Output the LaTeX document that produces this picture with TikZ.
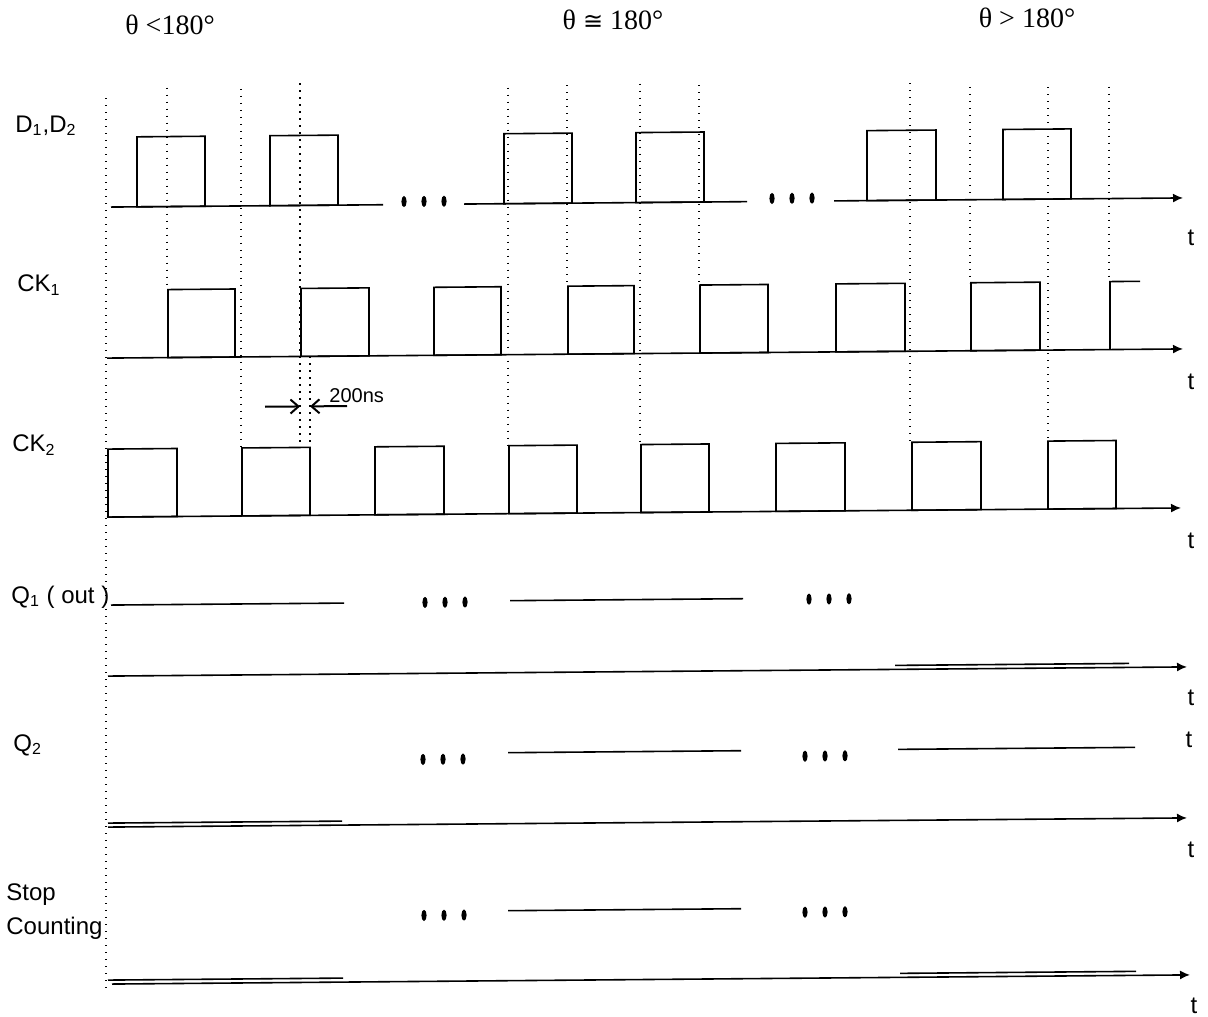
\documentclass[tikz,border=0pt]{standalone}
\usepackage{fontspec}
\setmainfont{Liberation Sans}
\newfontfamily\thetafont{Liberation Serif}
\newfontfamily\symbfont{DejaVu Sans}
\usetikzlibrary{arrows.meta}

\tikzset{
  sig/.style={line width=0.8pt},
  axis/.style={line width=0.8pt,-{Latex[length=5pt,width=4.5pt]}},
  guide/.style={line width=0.6pt,dash pattern=on 0.6pt off 2.9pt},
  gap/.style={line width=1pt,-{Straight Barb[length=4pt,width=7pt]}},
  lbl/.style={font=\fontsize{12}{14}\selectfont,inner sep=0pt},
  hdr/.style={font=\thetafont\fontsize{14}{16}\selectfont,inner sep=0pt},
}
\newcommand\gapdots[2]{\foreach \k in {0,20,40} \fill ({#1+\k},#2) ellipse [x radius=2.6, y radius=5.6];}

\begin{document}
\begin{tikzpicture}[x=0.5pt,y=-0.5pt]
  \useasboundingbox (0,0) rectangle (1208,1016);
  \begin{scope}[yslant=0.0085]

  % phase headings
  \node[hdr] (th1) at (170,26) {θ <180°};
  \node[hdr] (th2) at (613,25) {θ {\symbfont\fontsize{12}{14}\selectfont ≅} 180°};
  \node[hdr] (th3) at (1027,27) {θ > 180°};

  % signal names
  \node[lbl,anchor=west] (dlbl) at (15,126) {D\textsubscript{1},D\textsubscript{2}};
  \node[lbl,anchor=west] (ck1lbl) at (17,285) {CK\textsubscript{1}};
  \node[lbl,anchor=west] (ck2lbl) at (12,445) {CK\textsubscript{2}};
  \node[lbl,anchor=west] (q1lbl) at (11,597) {Q\textsubscript{1} ( out )};
  \node[lbl,anchor=west] (q2lbl) at (13,745) {Q\textsubscript{2}};
  \node[lbl,anchor=west,align=left] (sclbl) at (6,912) {Stop\\[3pt]Counting};

  % timing guides
  \foreach \x/\a/\b in {106/99/993, 167/89/291, 241/91/450, 300/86/450, 310/359/450,
                        508/92/450, 567/90/291, 640/89/450, 699/91/291,
                        910/91/450, 970/95/291, 1048/96/450, 1109/96/291}
    \draw[guide] (\x,\a) -- (\x,\b);

  % D1,D2
  \draw[sig] (111,208) -- (383,208);
  \draw[sig] (464,208) -- (747,208);
  \draw[axis] (834,208) -- (1183,208);
  \foreach \a/\b in {137/205, 270/338, 504/572, 636/704, 867/936, 1003/1071}
    \draw[sig] (\a,208) rectangle (\b,138);
  \gapdots{404}{205}
  \gapdots{772}{205}
  \node[lbl] (t1) at (1191,248) {t};

  % CK1
  \draw[axis] (107,359) -- (1183,359);
  \foreach \a/\b in {168/235, 301/369, 434/501, 568/634, 700/768, 836/905, 971/1040}
    \draw[sig] (\a,359) rectangle (\b,291);
  \draw[sig] (1110,359) |- (1140,291);
  \node[lbl] (t2) at (1191,392) {t};

  % CK2
  \draw[axis] (107,518) -- (1181,518);
  \foreach \a/\b in {108/177, 242/310, 375/444, 509/577, 641/709, 776/845, 912/981, 1048/1116}
    \draw[sig] (\a,518) rectangle (\b,450);
  \node[lbl] (t3) at (1191,551) {t};

  % 200ns between CK1 rise and CK2 fall
  \coordinate (rise) at (300,409);
  \coordinate (fall) at (310,409);
  \draw[gap] (265,409) -- (rise);
  \draw[gap] (347,409) -- (fall);
  \node[font=\fontsize{10}{12}\selectfont,inner sep=0pt,anchor=west] (gaplbl) at (329,398) {200ns};

  % Q1
  \draw[sig] (111,606) -- (344,606);
  \draw[sig] (510,605) -- (743,605);
  \draw[sig] (895,673) -- (1129,673);
  \draw[axis] (108,677) -- (1187,677);
  \gapdots{425}{606}
  \gapdots{809}{606}
  \node[lbl] (t4) at (1191,708) {t};

  % Q2
  \draw[sig] (508,757) -- (741,757);
  \draw[sig] (898,757) -- (1135,757);
  \draw[sig] (108,824) -- (342,824);
  \draw[axis] (108,828) -- (1187,828);
  \gapdots{423}{763}
  \gapdots{805}{763}
  \node[lbl] (t5) at (1189,750) {t};
  \node[lbl] (t6) at (1191,860) {t};

  % Stop Counting
  \draw[sig] (508,915) -- (741,915);
  \draw[sig] (108,981) -- (343,981);
  \draw[sig] (900,981) -- (1136,981);
  \draw[axis] (112,985) -- (1190,985);
  \gapdots{424}{919}
  \gapdots{805}{919}
  \node[lbl] (t7) at (1194,1016) {t};
  \end{scope}
\end{tikzpicture}
\end{document}
